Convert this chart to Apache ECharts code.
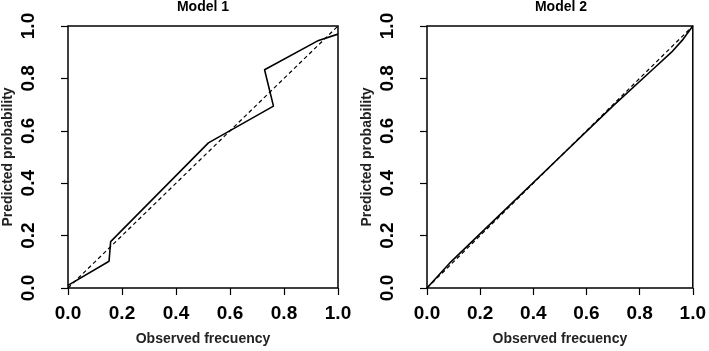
<!DOCTYPE html>
<html>
<head>
<meta charset="utf-8">
<script src="https://cdn.jsdelivr.net/npm/echarts@6/dist/echarts.min.js"></script>
<style>
  html, body { margin: 0; padding: 0; background: #fff; }
  #chart { width: 709px; height: 351px; }
</style>
</head>
<body>
<div id="chart"></div>
<script>
// calibration curves: [observed, predicted]
var model1Curve = [[0, 0.01], [0.152, 0.102], [0.158, 0.177], [0.52, 0.554], [0.761, 0.694], [0.728, 0.833], [0.928, 0.945], [1.0, 0.969]];
var model2Curve = [[0, 0], [0.09, 0.1], [0.3, 0.305], [0.5, 0.5], [0.7, 0.695], [0.85, 0.835], [0.92, 0.9], [0.96, 0.945], [1.0, 1.0]];
var diagonal = [[0, 0], [1, 1]];
var titles = ['Model 1', 'Model 2'];
var xName = 'Observed frecuency';
var yName = 'Predicted probability';

var chart = echarts.init(document.getElementById('chart'), null, { renderer: 'canvas' });

var fontFam = '"Liberation Sans", Arial, sans-serif';

function makeX (gridIndex) {
  return {
    type: 'value', gridIndex: gridIndex, min: 0, max: 1, interval: 0.2,
    name: xName, nameLocation: 'middle', nameGap: 44,
    nameTextStyle: { color: '#222', fontSize: 14, fontWeight: 'bold', fontFamily: fontFam },
    axisLine: { show: false },
    axisTick: { show: true, length: 7, lineStyle: { color: '#000', width: 1.2 } },
    splitLine: { show: false },
    axisLabel: {
      color: '#000', fontSize: 19, fontWeight: 'bold', fontFamily: fontFam, margin: 16,
      formatter: function (v) { return v.toFixed(1) }
    }
  }
}

function makeY (gridIndex) {
  return {
    type: 'value', gridIndex: gridIndex, min: 0, max: 1, interval: 0.2,
    name: yName, nameLocation: 'middle', nameGap: 53,
    nameTextStyle: { color: '#222', fontSize: 14, fontWeight: 'bold', fontFamily: fontFam },
    axisLine: { show: false },
    axisTick: { show: true, length: 7, lineStyle: { color: '#000', width: 1.2 } },
    splitLine: { show: false },
    axisLabel: {
      color: '#000', fontSize: 19, fontWeight: 'bold', fontFamily: fontFam, margin: 30, rotate: 90,
      formatter: function (v) { return v.toFixed(1) }
    }
  }
}

function solid (idx, data) {
  return {
    type: 'line', xAxisIndex: idx, yAxisIndex: idx, data: data,
    symbol: 'none', silent: true,
    lineStyle: { color: '#000', width: 1.6 }
  }
}

function dashed (idx) {
  return {
    type: 'line', xAxisIndex: idx, yAxisIndex: idx, data: diagonal,
    symbol: 'none', silent: true,
    lineStyle: { color: '#000', width: 1.2, type: [4, 3] }
  }
}

var option = {
  backgroundColor: '#fff',
  animation: false,
  title: [
    { text: titles[0], left: 203, top: 0, padding: 0, textAlign: 'center',
      textStyle: { fontSize: 14, fontWeight: 'bold', color: '#000', fontFamily: fontFam } },
    { text: titles[1], left: 561, top: 0, padding: 0, textAlign: 'center',
      textStyle: { fontSize: 14, fontWeight: 'bold', color: '#000', fontFamily: fontFam } }
  ],
  grid: [
    { left: 68, top: 26, width: 270, height: 269, show: true, borderColor: '#000', borderWidth: 1.5, backgroundColor: 'transparent' },
    { left: 427, top: 26, width: 269, height: 270, show: true, borderColor: '#000', borderWidth: 1.5, backgroundColor: 'transparent' }
  ],
  xAxis: [makeX(0), makeX(1)],
  yAxis: [makeY(0), makeY(1)],
  series: [
    dashed(0), solid(0, model1Curve),
    dashed(1), solid(1, model2Curve)
  ]
};

chart.setOption(option);
</script>
</body>
</html>
